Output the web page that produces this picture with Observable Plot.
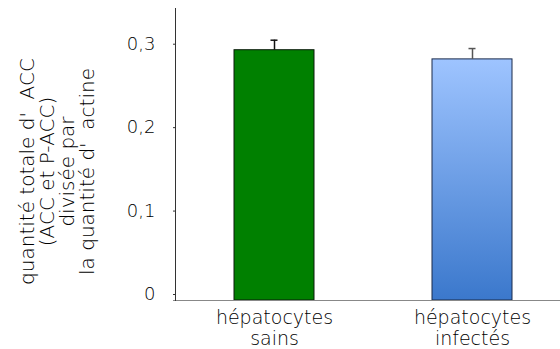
<!DOCTYPE html>
<html><head><meta charset="utf-8">
<script src="https://cdn.jsdelivr.net/npm/d3@7"></script>
<script src="https://cdn.jsdelivr.net/npm/@observablehq/plot@0.6"></script>
<style>body{margin:0;background:#fff} svg text{font-weight:300}</style>
</head><body><div id="chart"></div>
<script>
const categories = ["hépatocytes\nsains", "hépatocytes\ninfectés"];
const values = [0.300, 0.289];
const errors = [0.012, 0.013];
const yTicks = [0, 0.1, 0.2, 0.3];
const yTickLabels = ["0", "0,1", "0,2", "0,3"];
const yTitleLines = ["quantité totale d'\u00a0\u00a0ACC", "(ACC et P-ACC)", "divisée par", "la quantité d'\u00a0\u00a0actine"];

const fillColors = ["#008000", "url(#blueGrad)"];
const strokeColors = ["#0b1a0b", "#1a2a4a"];
const errColors = ["#111111", "#555555"];

const data = categories.map((c, i) => ({cat: c, value: values[i], top: values[i] + errors[i], i}));
const font = "'DejaVu Sans', sans-serif";

const plot = Plot.plot({
  width: 560, height: 349,
  marginTop: 8, marginBottom: 49, marginLeft: 175, marginRight: 0,
  style: {fontFamily: font, fontSize: "18px", color: "#000", background: "#fff"},
  x: {domain: categories, range: [175, 571], paddingInner: 0.596, paddingOuter: 0.298, align: 0.5},
  y: {domain: [0, 0.35]},
  color: {type: "identity"},
  marks: [
    Plot.barY(data, {x: "cat", y: "value", fill: d => fillColors[d.i], stroke: d => strokeColors[d.i], strokeWidth: 1}),
    Plot.ruleX(data, {x: "cat", y1: "value", y2: "top", stroke: d => errColors[d.i], strokeWidth: 1.5}),
    Plot.tickY(data, {x: "cat", y: "top", stroke: d => errColors[d.i], strokeWidth: 1.5, insetLeft: 36.5, insetRight: 36.5}),
    Plot.ruleY([0], {stroke: "#888", strokeWidth: 1, insetLeft: -2}),
    Plot.frame({anchor: "left", stroke: "#333"}),
    Plot.axisY(yTicks, {tickSize: 2, tickPadding: 18, stroke: "#333", fill: "#000", fontSize: 18, dy: -6,
      tickFormat: d => yTickLabels[yTicks.indexOf(d)], label: null}),
    Plot.axisX({tickSize: 0, tickPadding: 9, fill: "#000", fontSize: 19, lineHeight: 1.1, label: null}),
    Plot.text([yTitleLines.join("\n")], {text: d => d, frameAnchor: "left", rotate: -90, dx: -118, dy: 17,
      lineHeight: 1.0, fontSize: 20, fill: "#000", textAnchor: "middle", lineAnchor: "middle"})
  ]
});

d3.select(plot).insert("defs", ":first-child").html(
  '<linearGradient id="blueGrad" x1="0" y1="0" x2="0" y2="1">' +
  '<stop offset="0" stop-color="#9ec4ff"/><stop offset="1" stop-color="#3b78cc"/></linearGradient>');

document.getElementById("chart").appendChild(plot);
</script>
</body></html>
